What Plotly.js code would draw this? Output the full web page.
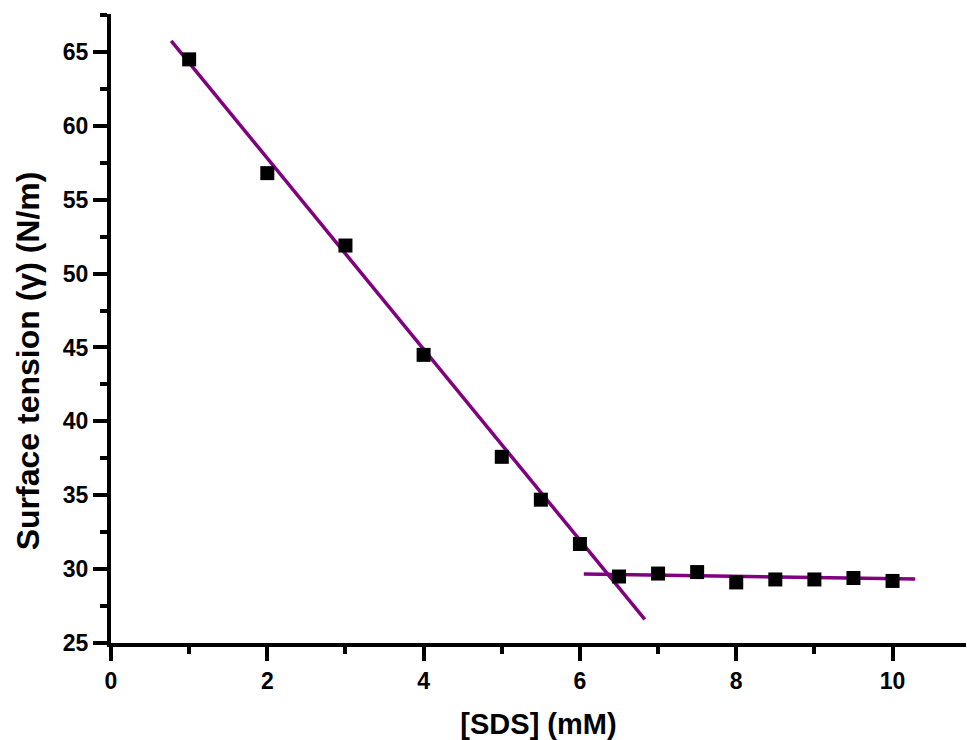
<!DOCTYPE html>
<html>
<head>
<meta charset="utf-8">
<script src="https://cdn.plot.ly/plotly-3.0.1.min.js"></script>
<style>html,body{margin:0;padding:0;background:#fff;}#chart{width:967px;height:740px;}</style>
</head>
<body>
<div id="chart"></div>
<script>
const sdsConc = [1, 2, 3, 4, 5, 5.5, 6, 6.5, 7, 7.5, 8, 8.5, 9, 9.5, 10];
const surfaceTension = [64.5, 56.8, 51.9, 44.5, 37.6, 34.7, 31.7, 29.5, 29.7, 29.8, 29.1, 29.3, 29.3, 29.4, 29.2];
const fit1X = [0.77, 6.83];
const fit1Y = [65.75, 26.6];
const fit2X = [6.05, 10.29];
const fit2Y = [29.67, 29.33];
const xTicks = [0, 2, 4, 6, 8, 10];
const yTicks = [25, 30, 35, 40, 45, 50, 55, 60, 65];
const xTitle = '[SDS] (mM)';
const yTitle = 'Surface tension (γ) (N/m)';

const FAM = 'Liberation Sans, Arial, sans-serif';

const traces = [
  {x: fit1X, y: fit1Y, mode: 'lines', line: {color: '#800080', width: 3.5}, showlegend: false, hoverinfo: 'skip'},
  {x: fit2X, y: fit2Y, mode: 'lines', line: {color: '#800080', width: 3.5}, showlegend: false, hoverinfo: 'skip'},
  {x: sdsConc, y: surfaceTension, mode: 'markers', marker: {symbol: 'square', size: 14, color: '#000'}, showlegend: false}
];

const layout = {
  width: 967, height: 740,
  margin: {l: 111, r: 1, t: 14, b: 97},
  paper_bgcolor: '#fff', plot_bgcolor: '#fff',
  font: {family: FAM, color: '#000', size: 20},
  xaxis: {
    range: [0, 10.94], tickmode: 'array', tickvals: xTicks, ticktext: xTicks.map(v => '<b>' + v + '</b>'),
    ticks: 'outside', ticklen: 14, tickwidth: 4, tickcolor: '#000',
    showline: true, linewidth: 4, linecolor: '#000', showgrid: false, zeroline: false,
    minor: {dtick: 1, tick0: 0, ticks: 'outside', ticklen: 7, tickwidth: 4, tickcolor: '#000', showgrid: false},
    tickfont: {family: FAM, size: 23, color: '#000'},
    title: {text: '<b>' + xTitle + '</b>', font: {family: FAM, size: 29, color: '#000'}, standoff: 25}
  },
  yaxis: {
    range: [25, 67.57], tickmode: 'array', tickvals: yTicks, ticktext: yTicks.map(v => '<b>' + v + '</b>'),
    ticks: 'outside', ticklen: 14, tickwidth: 4, tickcolor: '#000',
    showline: true, linewidth: 4, linecolor: '#000', showgrid: false, zeroline: false,
    minor: {dtick: 2.5, tick0: 25, ticks: 'outside', ticklen: 7, tickwidth: 4, tickcolor: '#000', showgrid: false},
    tickfont: {family: FAM, size: 23, color: '#000'}
  },
  annotations: [{
    text: '<b>' + yTitle + '</b>', textangle: -90, showarrow: false,
    xref: 'paper', yref: 'paper', x: -0.097, y: 0.448, xanchor: 'center', yanchor: 'middle',
    font: {family: FAM, size: 32, color: '#000'}
  }]
};

Plotly.newPlot('chart', traces, layout, {displayModeBar: false, staticPlot: true});
</script>
</body>
</html>
